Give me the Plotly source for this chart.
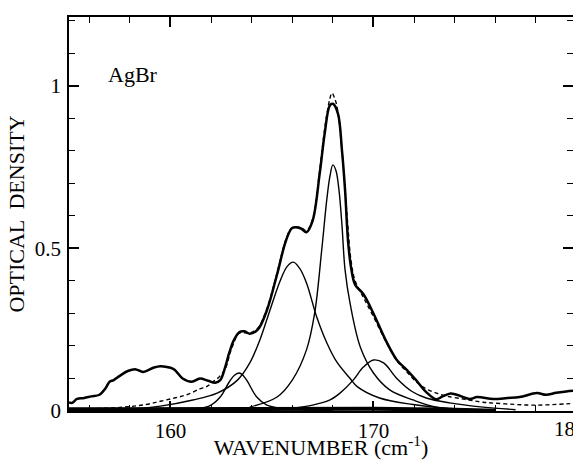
import plotly.graph_objects as go

# Measured spectrum (thick solid)
meas_x = [155.0, 155.15, 155.4, 155.75, 156.1, 156.5, 156.8, 157.0, 157.2, 157.5, 157.9, 158.3, 158.65,
          159.15, 159.5, 160.0, 160.2, 160.6, 161.05, 161.45, 161.85, 162.2, 162.45, 162.7, 162.9, 163.1,
          163.4, 163.65, 163.9, 164.3, 164.75, 165.25, 165.7, 166.0, 166.4, 166.7, 167.0, 167.35, 167.6,
          167.85, 168.0, 168.25, 168.45, 168.6, 168.75, 168.9, 169.1, 169.5, 170.0, 170.6, 171.15, 171.65,
          172.1, 172.6, 173.1, 173.4, 173.8, 174.1, 174.75, 175.1, 175.9, 176.6, 177.2, 178.05, 178.5,
          179.0, 179.5, 179.83]
meas_y = [0.026, 0.025, 0.037, 0.04, 0.045, 0.05, 0.07, 0.09, 0.095, 0.108, 0.123, 0.128, 0.12,
          0.133, 0.138, 0.133, 0.127, 0.10, 0.09, 0.10, 0.093, 0.087, 0.095, 0.136, 0.18, 0.215,
          0.243, 0.245, 0.238, 0.25, 0.31, 0.42, 0.526, 0.563, 0.562, 0.55, 0.585, 0.73, 0.855,
          0.94, 0.945, 0.915, 0.80, 0.68, 0.52, 0.44, 0.388, 0.36, 0.30, 0.218, 0.157, 0.126,
          0.095, 0.058, 0.036, 0.045, 0.054, 0.05, 0.037, 0.043, 0.037, 0.04, 0.043, 0.055, 0.05,
          0.056, 0.06, 0.062]

# Fitted sum (dashed)
fit_x = [155.0, 156.0, 157.0, 157.9, 158.8, 159.5, 160.2, 160.8, 161.45, 161.8, 162.1, 162.4, 162.7,
         163.0, 163.4, 163.9, 164.3, 164.75, 165.25, 165.7, 166.0, 166.4, 166.7, 167.0, 167.35, 167.6,
         167.85, 167.95, 168.1, 168.25, 168.45, 168.7, 168.9, 169.1, 169.5, 170.0, 170.6, 171.15, 171.65,
         172.1, 172.6, 173.1, 173.6, 174.5, 175.4, 176.5, 177.9, 179.5, 179.83]
fit_y = [0.005, 0.007, 0.009, 0.013, 0.02, 0.03, 0.04, 0.05, 0.068, 0.076, 0.09, 0.105, 0.13,
         0.19, 0.24, 0.24, 0.255, 0.315, 0.425, 0.53, 0.565, 0.565, 0.555, 0.59, 0.74, 0.87,
         0.96, 0.978, 0.96, 0.92, 0.80, 0.60, 0.46, 0.40, 0.35, 0.29, 0.215, 0.155, 0.12,
         0.09, 0.068, 0.055, 0.046, 0.036, 0.027, 0.022, 0.018, 0.022, 0.023]

# Component bands (thin solid)
comp1_x = [160.0, 161.0, 161.9, 162.45, 162.9, 163.15, 163.4, 163.6, 163.8, 164.25, 164.75, 165.5, 166.5, 168.0]
comp1_y = [0.003, 0.006, 0.015, 0.043, 0.09, 0.11, 0.117, 0.108, 0.09, 0.043, 0.018, 0.008, 0.004, 0.002]

comp2_x = [155.0, 157.9, 159.5, 161.1, 162.3, 163.3, 163.9, 164.4, 164.9, 165.4, 165.75, 166.05, 166.35,
           166.7, 167.2, 167.7, 168.2, 168.85, 169.2, 170.3, 171.95, 173.3, 175.0]
comp2_y = [0.002, 0.005, 0.015, 0.034, 0.055, 0.095, 0.147, 0.218, 0.31, 0.40, 0.445, 0.458, 0.44,
           0.394, 0.29, 0.21, 0.15, 0.10, 0.075, 0.04, 0.02, 0.01, 0.004]

comp3_x = [163.9, 165.25, 166.0, 166.7, 167.1, 167.45, 167.7, 167.85, 168.0, 168.15, 168.3, 168.45, 168.6,
           168.85, 169.35, 170.0, 170.8, 171.95, 173.1, 175.0]
comp3_y = [0.012, 0.043, 0.095, 0.188, 0.30, 0.495, 0.65, 0.72, 0.757, 0.74, 0.68, 0.57, 0.434,
           0.33, 0.197, 0.117, 0.065, 0.034, 0.012, 0.004]

comp4_x = [166.0, 167.0, 167.86, 168.35, 169.0, 169.5, 170.0, 170.5, 171.15, 171.9, 172.6, 173.75, 175.4, 177.0]
comp4_y = [0.008, 0.018, 0.034, 0.055, 0.095, 0.135, 0.157, 0.148, 0.10, 0.06, 0.04, 0.025, 0.012, 0.004]

# Baseline band (heavy)
base_x = [155.0, 160.0, 165.0, 170.0, 174.0, 176.0]
base_y = [0.005, 0.006, 0.007, 0.007, 0.004, 0.001]

x_ticks = [160, 170, 180]
y_ticks = [0, 0.5, 1]
y_ticktext = ["0", "0.5", "1"]

FONT = "Liberation Serif"

fig = go.Figure()
fig.add_trace(go.Scatter(x=base_x, y=base_y, mode="lines", line=dict(color="black", width=4),
                         yaxis="y2", showlegend=False))
for cx, cy in [(comp1_x, comp1_y), (comp2_x, comp2_y), (comp3_x, comp3_y), (comp4_x, comp4_y)]:
    fig.add_trace(go.Scatter(x=cx, y=cy, mode="lines", line=dict(color="black", width=1.4, shape="spline"),
                             showlegend=False))
fig.add_trace(go.Scatter(x=fit_x, y=fit_y, mode="lines", line=dict(color="black", width=1.4, dash="4px,3px",
                                                                  shape="spline"), showlegend=False))
fig.add_trace(go.Scatter(x=meas_x, y=meas_y, mode="lines", line=dict(color="black", width=2.5, shape="spline"),
                         showlegend=False))

fig.update_layout(
    width=573, height=460,
    margin=dict(l=69, r=0, t=17, b=49),
    paper_bgcolor="white", plot_bgcolor="white",
    font=dict(family=FONT, size=21, color="black"),
    xaxis=dict(range=[155, 179.83], tickvals=x_ticks, ticks="inside", ticklen=10, tickwidth=1.5,
               tickcolor="black", showline=True, linecolor="black", linewidth=1.5, mirror="ticks",
               showgrid=False, zeroline=False, tickfont=dict(family=FONT, size=21), automargin=False,
               minor=dict(dtick=2, tick0=0, ticks="inside", ticklen=6, tickwidth=1.2, tickcolor="black"),
               title=dict(text="WAVENUMBER (cm<sup>-1</sup>)", font=dict(family=FONT, size=22), standoff=3)),
    yaxis=dict(range=[0, 1.212], tickvals=y_ticks, ticktext=y_ticktext, ticks="inside", ticklen=10,
               tickwidth=1.5, tickcolor="black", showline=True, linecolor="black", linewidth=1.5,
               showgrid=False, zeroline=False, tickfont=dict(family=FONT, size=21), ticklabelstandoff=2,
               automargin=False,
               minor=dict(dtick=0.1, tick0=0, ticks="inside", ticklen=6, tickwidth=1.2, tickcolor="black"),
               title=dict(text="OPTICAL  DENSITY", font=dict(family=FONT, size=22), standoff=4)),
    yaxis2=dict(range=[0, 1.212], overlaying="y", side="right", anchor="x", showline=False,
                showgrid=False, zeroline=False, showticklabels=False, tickvals=y_ticks, ticks="inside",
                ticklen=10, tickwidth=1.5, tickcolor="black", automargin=False,
                minor=dict(dtick=0.1, tick0=0, ticks="inside", ticklen=6, tickwidth=1.2, tickcolor="black")),
)

fig.add_annotation(text="AgBr", x=158.15, y=1.034, xref="x", yref="y", showarrow=False,
                   font=dict(family=FONT, size=22, color="black"))
fig.add_annotation(text="180", x=0.994, y=-0.045, xref="paper", yref="paper", showarrow=False,
                   xanchor="center", yanchor="middle", font=dict(family=FONT, size=21, color="black"))

fig.write_html("out.html", config={"displayModeBar": False},
               post_script="document.body.style.margin='0';document.body.style.overflow='hidden';")
